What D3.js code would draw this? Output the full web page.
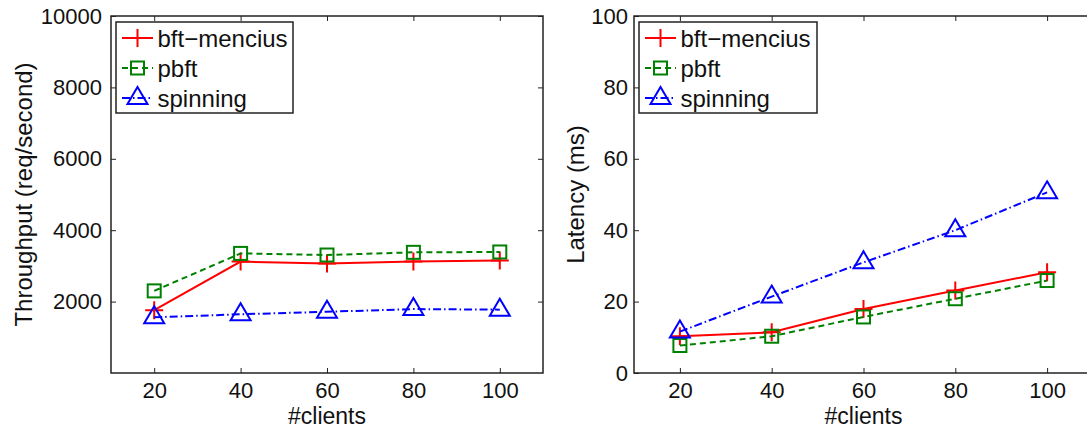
<!DOCTYPE html>
<html>
<head>
<meta charset="utf-8">
<script src="https://cdn.jsdelivr.net/npm/d3@7"></script>
<style>
    body { margin: 0; background: #fff; }
    svg { display: block; font-family: "Liberation Sans", Arial, Helvetica, sans-serif; }
    .frame { fill: none; stroke: #222; stroke-width: 1.5; }
</style>
</head>
<body>
<svg id="chart" width="1087" height="428"></svg>
<script>
// Data
const clients = [20, 40, 60, 80, 100];
const seriesNames = ['bft\u2212mencius', 'pbft', 'spinning'];
const throughputMencius = [1760, 3120, 3070, 3120, 3150];
const throughputPbft = [2300, 3350, 3305, 3380, 3390];
const throughputSpinning = [1560, 1645, 1715, 1790, 1775];
const latencyMencius = [10.3, 11.4, 17.9, 23.1, 28.2];
const latencyPbft = [7.7, 10.3, 15.7, 20.8, 25.9];
const latencySpinning = [11.6, 21.4, 31.0, 40.0, 50.6];
const xTicks = [20, 40, 60, 80, 100];
const throughputTicks = [2000, 4000, 6000, 8000, 10000];
const latencyTicks = [0, 20, 40, 60, 80, 100];

// Series styles (colour, dash, marker)
const STYLES = [
    { color: '#ff0000', dash: null, marker: 'plus' },
    { color: '#008000', dash: '6,4', marker: 'square' },
    { color: '#0000ff', dash: '8,3,1.5,3', marker: 'triangle' }
];

const TICK_LEN = 5;
const TICK_FONT = 22;
const TITLE_FONT = 24;

const svg = d3.select('#chart');

function drawMarker(g, type, cx, cy, color) {
    if (type === 'plus') {
        g.append('path')
            .attr('d', `M${cx - 9},${cy}H${cx + 9}M${cx},${cy - 9}V${cy + 9}`)
            .attr('stroke', color).attr('stroke-width', 2).attr('fill', 'none');
    } else if (type === 'square') {
        g.append('rect')
            .attr('x', cx - 6.5).attr('y', cy - 6.5)
            .attr('width', 13).attr('height', 13)
            .attr('stroke', color).attr('stroke-width', 2).attr('fill', 'none');
    } else {
        g.append('path')
            .attr('d', `M${cx},${cy - 11}L${cx + 10},${cy + 6}L${cx - 10},${cy + 6}Z`)
            .attr('stroke', color).attr('stroke-width', 2).attr('fill', 'none');
    }
}

function styleLabels(a) {
    a.attr('font-size', null).attr('font-family', null);
    a.selectAll('text').attr('font-size', TICK_FONT).attr('fill', '#111');
    a.selectAll('line').attr('stroke', '#222');
    a.select('.domain').remove();
}

function drawPanel(opts) {
    const { left, right, top, bottom, yDomain, yTicks, seriesData, yTitle, titleX, yPad } = opts;

    const x = d3.scaleLinear().domain([10, 110]).range([left, right]);
    const y = d3.scaleLinear().domain(yDomain).range([bottom, top]);

    const g = svg.append('g');

    // Axes with inward ticks on all four sides
    g.append('g')
        .attr('transform', `translate(0,${bottom})`)
        .call(d3.axisBottom(x).tickValues(xTicks).tickSizeInner(-TICK_LEN).tickSizeOuter(0).tickPadding(9))
        .call(styleLabels);

    g.append('g')
        .attr('transform', `translate(0,${top})`)
        .call(d3.axisTop(x).tickValues(xTicks).tickSizeInner(-TICK_LEN).tickSizeOuter(0).tickFormat(''))
        .call(styleLabels);

    g.append('g')
        .attr('transform', `translate(${left},0)`)
        .call(d3.axisLeft(y).tickValues(yTicks).tickSizeInner(-TICK_LEN).tickSizeOuter(0)
            .tickPadding(yPad).tickFormat(d3.format('d')))
        .call(styleLabels);

    g.append('g')
        .attr('transform', `translate(${right},0)`)
        .call(d3.axisRight(y).tickValues(yTicks).tickSizeInner(-TICK_LEN).tickSizeOuter(0).tickFormat(''))
        .call(styleLabels);

    g.append('rect')
        .attr('class', 'frame')
        .attr('x', left).attr('y', top)
        .attr('width', right - left).attr('height', bottom - top);

    // Lines and markers
    const line = d3.line().x((d, i) => x(clients[i])).y(d => y(d));
    seriesData.forEach((values, si) => {
        const st = STYLES[si];
        g.append('path')
            .datum(values)
            .attr('d', line)
            .attr('fill', 'none')
            .attr('stroke', st.color)
            .attr('stroke-width', 2)
            .attr('stroke-dasharray', st.dash);
        values.forEach((v, i) => drawMarker(g, st.marker, x(clients[i]), y(v), st.color));
    });

    // Axis titles
    g.append('text')
        .attr('x', x(60))
        .attr('y', 424)
        .attr('font-size', 23)
        .attr('fill', '#111')
        .attr('text-anchor', 'middle')
        .text('#clients');

    g.append('text')
        .attr('transform', `translate(${titleX},${(top + bottom) / 2}) rotate(-90)`)
        .attr('font-size', TITLE_FONT)
        .attr('fill', '#111')
        .attr('text-anchor', 'middle')
        .text(yTitle);

    // Legend
    const lg = g.append('g');
    lg.append('rect')
        .attr('x', left + 5).attr('y', 22)
        .attr('width', opts.legendW).attr('height', 91)
        .attr('fill', '#fff').attr('stroke', '#222').attr('stroke-width', 1.5);
    seriesNames.forEach((name, si) => {
        const st = STYLES[si];
        const cy = 38 + si * 30;
        const x0 = left + 11, x1 = left + 42;
        lg.append('line')
            .attr('x1', x0).attr('x2', x1).attr('y1', cy).attr('y2', cy)
            .attr('stroke', st.color).attr('stroke-width', 2)
            .attr('stroke-dasharray', st.dash);
        drawMarker(lg, st.marker, (x0 + x1) / 2, cy, st.color);
        lg.append('text')
            .attr('x', left + 46.5).attr('y', cy + 8.7)
            .attr('font-size', TITLE_FONT)
            .attr('fill', '#111')
            .text(name);
    });
}

drawPanel({
    left: 111, right: 543, top: 16, bottom: 373,
    yDomain: [0, 10000], yTicks: throughputTicks,
    seriesData: [throughputMencius, throughputPbft, throughputSpinning],
    yTitle: 'Throughput (req/second)', titleX: 31.5, legendW: 177, yPad: 9
});

drawPanel({
    left: 634, right: 1093, top: 16, bottom: 373,
    yDomain: [0, 100], yTicks: latencyTicks,
    seriesData: [latencyMencius, latencyPbft, latencySpinning],
    yTitle: 'Latency (ms)', titleX: 584, legendW: 178, yPad: 6
});
</script>
</body>
</html>
